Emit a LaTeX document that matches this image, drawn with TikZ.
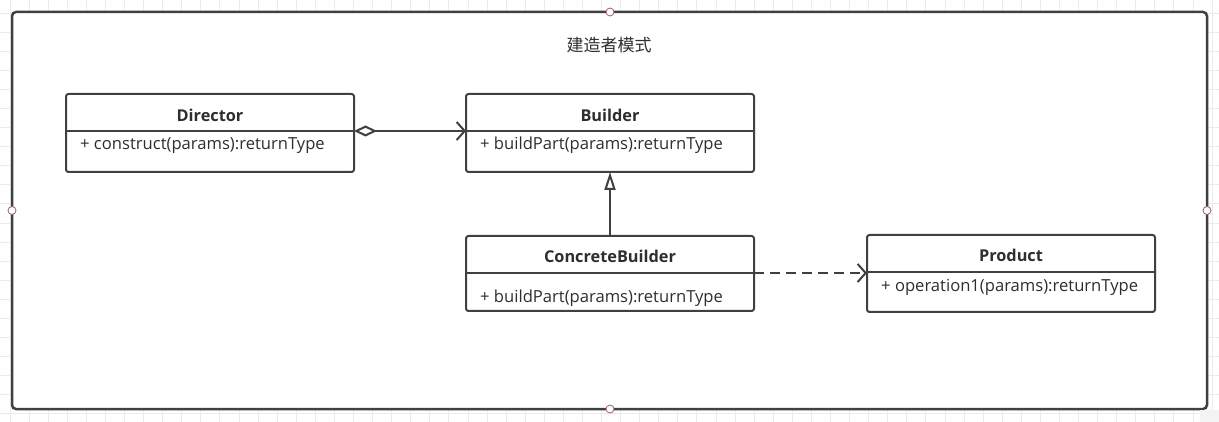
\documentclass[tikz,border=0pt]{standalone}
\usepackage{fontspec}
\setmainfont{Open Sans}
\newfontfamily\cjk{Noto Sans CJK SC}
\usetikzlibrary{arrows.meta}
\definecolor{ln}{HTML}{404040}
\definecolor{txt}{HTML}{2E2E2E}
\definecolor{hdl}{HTML}{A06060}
\definecolor{grd}{HTML}{EBEBEB}
\tikzset{
  cls/.style={draw=ln, line width=2pt, rounded corners=2.5pt, fill=white},
  divider/.style={draw=ln, line width=2pt},
  cname/.style={font=\fontsize{16.3}{18}\selectfont\bfseries, text=txt, anchor=base, inner sep=0},
  cmeth/.style={font=\fontsize{16.6}{18}\selectfont, text=txt, anchor=base west, inner sep=0},
  conn/.style={draw=ln, line width=2pt},
  handle/.style={circle, draw=hdl, fill=white, line width=0.8pt, minimum size=8pt, inner sep=0},
}
\begin{document}
\begin{tikzpicture}[x=1pt,y=-1pt]
\useasboundingbox (0,0) rectangle (1219,422);
\fill[white] (0,0) rectangle (1219,422);
% background grid
\foreach \i in {0,...,63} {\draw[grd, line width=0.8pt] (10+\i*19.08,0) -- (10+\i*19.08,422);}
\foreach \j in {0,...,22} {\draw[grd, line width=0.8pt] (0,-6+\j*19.08) -- (1219,-6+\j*19.08);}
% outer frame
\draw[draw=ln, line width=2.5pt, rounded corners=4pt, fill=white] (12,12) rectangle (1207,409);
\node[handle] (h1) at (610,12) {};
\node[handle] (h2) at (12,210.5) {};
\node[handle] (h3) at (1207,210.5) {};
\node[handle] (h4) at (610,409) {};
\node[font=\cjk\fontsize{17}{20}\selectfont, text=txt, inner sep=0] (title) at (609,45) {建造者模式};
% Director
\draw[cls] (66,94) rectangle (354,172);
\draw[divider] (66,131) -- (354,131);
\node[cname] (dirname) at (210,122) {Director};
\node[cmeth] (dirm) at (80,150) {+ construct(params):returnType};
\coordinate (dirR) at (354,131);
% Builder
\draw[cls] (466,94) rectangle (754,172);
\draw[divider] (466,131) -- (754,131);
\node[cname] (bname) at (610,122) {Builder};
\node[cmeth] (bm) at (480,150) {+ buildPart(params):returnType};
\coordinate (bL) at (466,131);
\coordinate (bB) at (610,172);
% ConcreteBuilder
\draw[cls] (466,236) rectangle (754,311);
\draw[divider] (466,273) -- (754,273);
\node[cname] (cbname) at (610,263) {ConcreteBuilder};
\node[cmeth] (cbm) at (480,302) {+ buildPart(params):returnType};
\coordinate (cbT) at (610,236);
\coordinate (cbR) at (754,273);
% Product
\draw[cls] (867,235) rectangle (1155,312);
\draw[divider] (867,272) -- (1155,272);
\node[cname] (pname) at (1011,262) {Product};
\node[cmeth] (pm) at (881,291) {+ operation1(params):returnType};
\coordinate (pL) at (867,273);
% connectors
\draw[conn, {Diamond[open, length=23pt, width=11pt, line width=2pt, fill=white]}-{Straight Barb[length=8pt, width=18pt, line width=2pt]}] (dirR) -- (bL);
\draw[conn, -{Triangle[open, length=18pt, width=11pt, line width=2pt, fill=white]}] (cbT) -- (bB);
\draw[conn, dash pattern=on 10pt off 6pt, -{Straight Barb[length=8pt, width=18pt, line width=2pt]}] (cbR) -- (pL);
\fill[grd!60] (1200,410) rectangle (1219,422);
\end{tikzpicture}
\end{document}
